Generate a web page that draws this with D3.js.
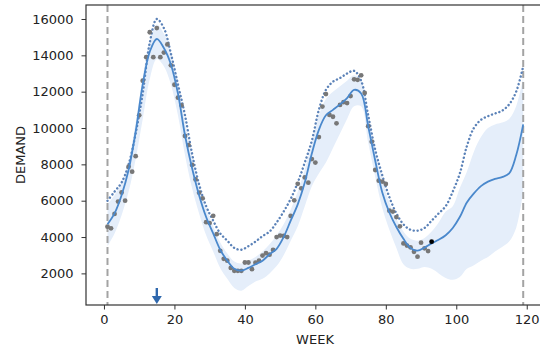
<!DOCTYPE html>
<html>
<head>
<meta charset="utf-8">
<script src="https://cdn.jsdelivr.net/npm/d3@7"></script>
<style>
  body { margin: 0; background: #fff; }
  text { font-family: "DejaVu Sans", sans-serif; }
</style>
</head>
<body>
<script>
var curveWeeks = [1,3,5,7,9,11,13,15,17,19,21,23,25,27,29,31,33,35,37,39,41,43,45,47,49,51,53,55,57,59,
  61,63,65,67,69,71,73,75,77,79,81,83,85,87,89,91,93,95,97,99,101,103,105,107,109,111,113,115,117,119];

var meanDemand = [4700,5300,6300,7700,9800,12400,14200,14900,14400,13500,11900,9600,7800,6300,5100,4200,3300,2700,2250,2150,
  2300,2500,2700,3050,3350,4000,4900,5800,7000,8600,9900,10700,11000,11300,11650,12100,11900,10100,8200,6450,
  5350,4550,3900,3400,3250,3420,3650,3850,4100,4500,5100,5900,6400,6800,7050,7200,7300,7500,8500,10200];

var upperDotted = [6000,6500,7000,8000,9700,11900,14700,16000,15500,14100,12400,10700,8600,6900,5700,4900,4200,3800,3400,3300,
  3500,3750,4050,4300,4800,5400,6100,7000,8100,9300,11000,12100,12550,12750,13000,13150,12600,10700,8800,7400,
  6200,5300,4700,4400,4350,4500,4900,5300,5700,6500,7500,9000,10000,10450,10650,10800,10950,11300,12000,13400];

var bandLow = [3500,4200,5200,6500,8300,10500,12700,13800,13400,12400,10700,8500,6700,5300,4100,3200,2300,1700,1200,1050,
  1300,1550,1700,2000,2400,3000,3800,4600,5700,6800,7500,8100,8900,9700,10500,11200,11200,9200,7300,5600,
  4400,3400,2500,2250,2250,2350,2250,2000,1750,1650,1800,2250,2450,2700,2900,3200,3450,3750,4500,6500];

var bandHigh = [5800,6300,7000,8200,10300,12800,14800,15700,15200,14200,12600,10300,8500,6900,5600,4600,3700,3100,2650,2550,
  2700,2900,3200,3600,4100,4700,5500,6500,7700,9200,10700,11600,12000,12300,12600,12900,12600,10800,8900,7200,
  5900,5000,4300,3900,3800,3950,4300,4800,5400,5700,6700,7600,8700,9500,10000,10200,10300,10500,11200,12800];

// observed weekly demand
var obsWeeks = d3.range(1, 93);
var obsDemand = [4570,4480,5270,5950,6450,6000,7870,7600,8450,10700,12600,13900,15270,13900,15500,13900,14150,14600,13450,12380,
  11670,11250,9560,9060,7970,7170,6440,6130,4820,4770,5170,4160,3240,2800,2700,2300,2140,2140,2140,2600,
  2600,2230,2590,2700,2980,3110,3030,3290,4000,4080,4060,4000,5160,6020,6930,6680,7280,6990,8290,8100,
  9500,11180,11870,10720,10620,10260,11270,11420,11370,11760,12680,12650,12900,11930,10100,9250,7690,7100,7050,6920,
  5450,5400,5100,4590,3650,3530,3435,3190,2920,3690,3380,3230];

var lastWeek = [93], lastDemand = [3743];
var markerWeeks = [1, 119];
var arrowWeek = 15;

var xTicks = [0, 20, 40, 60, 80, 100, 120];
var yTicks = [2000, 4000, 6000, 8000, 10000, 12000, 14000, 16000];

var W = 540, H = 348;
var plotL = 86, plotT = 5, plotR = 544, plotB = 305;

var svg = d3.select('body').append('svg')
  .attr('width', W)
  .attr('height', H);

svg.append('rect').attr('width', W).attr('height', H).attr('fill', '#fff');

var x = d3.scaleLinear().domain([-5.1, 124.9]).range([plotL, plotR]);
var y = d3.scaleLinear().domain([260, 16770]).range([plotB, plotT]);

svg.append('clipPath').attr('id', 'plot')
  .append('rect').attr('x', plotL).attr('y', plotT).attr('width', plotR - plotL).attr('height', plotB - plotT);

var g = svg.append('g').attr('clip-path', 'url(#plot)');

var curve = d3.curveCatmullRom.alpha(0.5);

// confidence band
var band = curveWeeks.map(function(w, i) { return {w: w, lo: bandLow[i], hi: bandHigh[i]}; });
g.append('path')
  .datum(band)
  .attr('fill', '#e5eefa')
  .attr('d', d3.area().curve(curve)
    .x(function(d) { return x(d.w); })
    .y0(function(d) { return y(d.lo); })
    .y1(function(d) { return y(d.hi); }));

// vertical markers
g.selectAll('.marker').data(markerWeeks).enter().append('line')
  .attr('class', 'marker')
  .attr('x1', function(d) { return x(d); })
  .attr('x2', function(d) { return x(d); })
  .attr('y1', plotT)
  .attr('y2', plotB)
  .attr('stroke', '#a3a3a3')
  .attr('stroke-width', 2)
  .attr('stroke-dasharray', '7,4');

// upper dotted curve
g.append('path')
  .datum(curveWeeks.map(function(w, i) { return [w, upperDotted[i]]; }))
  .attr('fill', 'none')
  .attr('stroke', '#5b82b8')
  .attr('stroke-width', 2.4)
  .attr('stroke-linecap', 'round')
  .attr('stroke-dasharray', '0.1,3.8')
  .attr('d', d3.line().curve(curve)
    .x(function(d) { return x(d[0]); })
    .y(function(d) { return y(d[1]); }));

// observations
g.selectAll('.obs').data(obsWeeks).enter().append('circle')
  .attr('class', 'obs')
  .attr('cx', function(d) { return x(d); })
  .attr('cy', function(d, i) { return y(obsDemand[i]); })
  .attr('r', 2.4)
  .attr('fill', '#777');

// mean curve
g.append('path')
  .datum(curveWeeks.map(function(w, i) { return [w, meanDemand[i]]; }))
  .attr('fill', 'none')
  .attr('stroke', '#4a88cc')
  .attr('stroke-width', 1.8)
  .attr('d', d3.line().curve(curve)
    .x(function(d) { return x(d[0]); })
    .y(function(d) { return y(d[1]); }));

// latest point
g.selectAll('.last').data(lastWeek).enter().append('circle')
  .attr('class', 'last')
  .attr('cx', function(d) { return x(d); })
  .attr('cy', function(d, i) { return y(lastDemand[i]); })
  .attr('r', 2.4)
  .attr('fill', '#000');

// arrow pointing at the peak week
var ax = x(arrowWeek);
svg.append('line')
  .attr('x1', ax).attr('x2', ax)
  .attr('y1', 288).attr('y2', 298)
  .attr('stroke', '#2f68ad').attr('stroke-width', 2.4);
svg.append('path')
  .attr('d', 'M' + (ax - 5) + ',296 L' + (ax + 5) + ',296 L' + ax + ',304 Z')
  .attr('fill', '#2f68ad');

// axes
var xAxis = svg.append('g')
  .attr('transform', 'translate(0,' + plotB + ')')
  .call(d3.axisBottom(x).tickValues(xTicks).tickSize(4.5).tickPadding(5).tickFormat(d3.format('d')));
var yAxis = svg.append('g')
  .attr('transform', 'translate(' + plotL + ',0)')
  .call(d3.axisLeft(y).tickValues(yTicks).tickSize(4.5).tickPadding(8).tickFormat(d3.format('d')));

[xAxis, yAxis].forEach(function(a) {
  a.select('.domain').remove();
  a.selectAll('line').attr('stroke', '#333');
  a.selectAll('text').attr('fill', '#222').style('font-size', '13px').style('font-family', 'DejaVu Sans');
});

// frame
svg.append('rect')
  .attr('x', plotL).attr('y', plotT)
  .attr('width', plotR - plotL).attr('height', plotB - plotT)
  .attr('fill', 'none').attr('stroke', '#333').attr('stroke-width', 1.2);

svg.append('text')
  .attr('x', (plotL + plotR) / 2).attr('y', 344)
  .attr('text-anchor', 'middle')
  .style('font-size', '13px').attr('fill', '#222')
  .text('WEEK');

svg.append('text')
  .attr('transform', 'translate(25,' + (plotT + plotB) / 2 + ') rotate(-90)')
  .attr('text-anchor', 'middle')
  .style('font-size', '13px').attr('fill', '#222')
  .text('DEMAND');
</script>
</body>
</html>
